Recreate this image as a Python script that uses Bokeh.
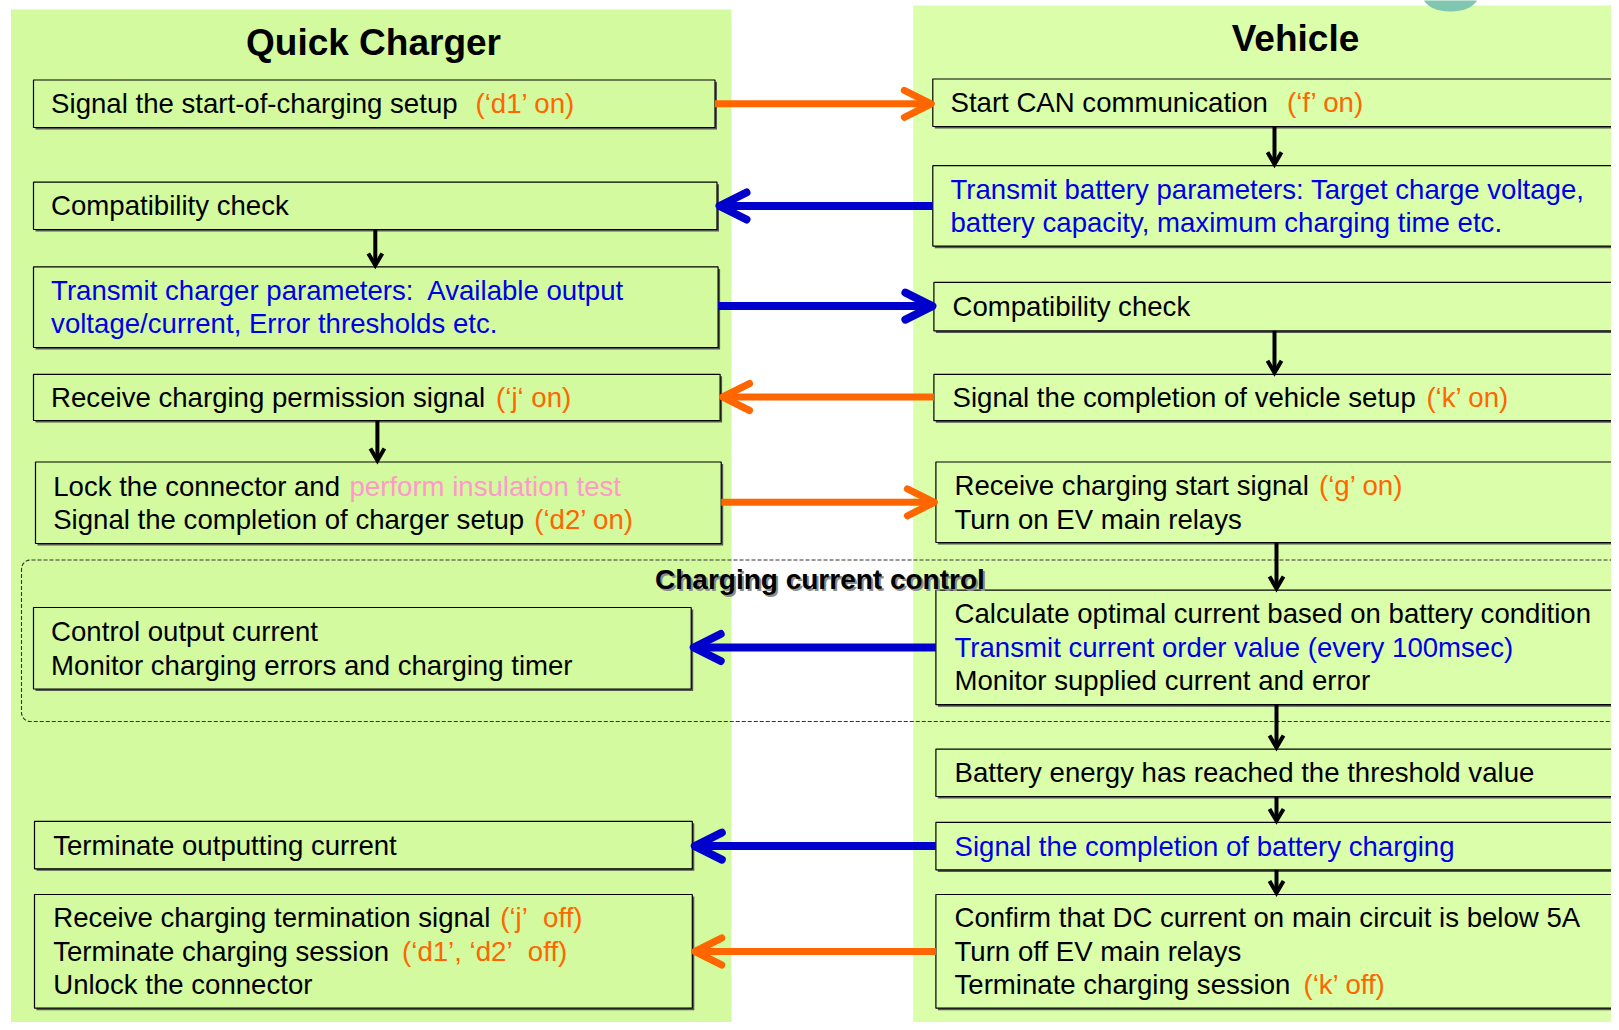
import numpy as np
from bokeh.plotting import figure
from bokeh.models import Range1d
from bokeh.embed import file_html
from bokeh.resources import INLINE
from bokeh.core.properties import value

NB = "\u00a0"

# ---------------- DATA: texts of the two flow columns ----------------
panel_titles = ["Quick Charger", "Vehicle"]
group_title = "Charging current control"

# every step: list of lines; every line: list of (text, colour key)
charger_steps = [
    [[("Signal the start-of-charging setup", "k"), ("(\u2018d1\u2019 on)", "o")]],
    [[("Compatibility check", "k")]],
    [[("Transmit charger parameters:" + NB + " Available output", "b")],
     [("voltage/current, Error thresholds etc.", "b")]],
    [[("Receive charging permission signal", "k"), ("(\u2018j\u2018 on)", "o")]],
    [[("Lock the connector and ", "k"), ("perform insulation test", "p")],
     [("Signal the completion of charger setup", "k"), ("(\u2018d2\u2019 on)", "o")]],
    [[("Control output current", "k")],
     [("Monitor charging errors and charging timer", "k")]],
    [[("Terminate outputting current", "k")]],
    [[("Receive charging termination signal", "k"), ("(\u2018j\u2019" + NB + " off)", "o")],
     [("Terminate charging session", "k"), ("(\u2018d1\u2019, \u2018d2\u2019" + NB + " off)", "o")],
     [("Unlock the connector", "k")]],
]

vehicle_steps = [
    [[("Start CAN communication", "k"), ("(\u2018f\u2019 on)", "o")]],
    [[("Transmit battery parameters: Target charge voltage,", "b")],
     [("battery capacity, maximum charging time etc.", "b")]],
    [[("Compatibility check", "k")]],
    [[("Signal the completion of vehicle setup", "k"), ("(\u2018k\u2019 on)", "o")]],
    [[("Receive charging start signal", "k"), ("(\u2018g\u2019 on)", "o")],
     [("Turn on EV main relays", "k")]],
    [[("Calculate optimal current based on battery condition", "k")],
     [("Transmit current order value (every 100msec)", "b")],
     [("Monitor supplied current and error", "k")]],
    [[("Battery energy has reached the threshold value", "k")]],
    [[("Signal the completion of battery charging", "b")]],
    [[("Confirm that DC current on main circuit is below 5A", "k")],
     [("Turn off EV main relays", "k")],
     [("Terminate charging session", "k"), ("(\u2018k\u2019 off)", "o")]],
]

# messages between columns: (sender column, sender step, receiver step, kind)
messages = [
    ("charger", 0, 0, "signal"),
    ("vehicle", 1, 1, "can"),
    ("charger", 2, 2, "can"),
    ("vehicle", 3, 3, "signal"),
    ("charger", 4, 4, "signal"),
    ("vehicle", 5, 5, "can"),
    ("vehicle", 7, 6, "can"),
    ("vehicle", 8, 7, "signal"),
]
# sequence arrows inside a column: (column, from step, to step)
flows = [
    ("charger", 1, 2), ("charger", 3, 4),
    ("vehicle", 0, 1), ("vehicle", 2, 3), ("vehicle", 4, 5),
    ("vehicle", 5, 6), ("vehicle", 6, 7), ("vehicle", 7, 8),
]

# ---------------- LAYOUT (page pixels) ----------------
charger_boxes = [(33, 714.5, 79.5, 127), (33, 716.5, 181.7, 229),
                 (33, 717.6, 266.4, 347), (33, 719.6, 373.8, 420),
                 (35, 720.7, 461.5, 543), (33, 690.7, 607, 688.5),
                 (34, 691.8, 820.8, 868.3), (34, 691.8, 894, 1007.7)]
vehicle_boxes = [(932.3, 1613.8, 78.5, 126), (932.3, 1615.9, 165.2, 245.7),
                 (933.4, 1613.8, 281.9, 330.4), (933.4, 1613.8, 373.8, 420.2),
                 (935.4, 1615.9, 461.5, 542), (935.4, 1617, 589.6, 704.2),
                 (935.4, 1615.9, 748.6, 796), (935.4, 1615.9, 821.9, 869.4),
                 (935.4, 1615.9, 894, 1007.7)]
charger_seg_x = [[[50.6, 475]], [[50.6]], [[50.6], [50.6]], [[50.6, 495.6]],
                 [[52.7, 349], [52.7, 533.8]], [[50.6], [50.6]], [[52.7]],
                 [[52.7, 499.7], [52.7, 401.6], [52.7]]]
vehicle_seg_x = [[[950, 1286.5]], [[950], [950]], [[952]], [[952, 1425.9]],
                 [[954, 1318.5], [954]], [[954], [954], [954]], [[954]], [[954]],
                 [[954], [954], [954, 1303]]]
message_y = [103.3, 205.5, 305.6, 396.5, 501.8, 647.0, 845.6, 951.0]
flow_x = [374.8, 376.9, 1274, 1274, 1276, 1276, 1276, 1276]

LEFT_BG, RIGHT_BG = "#d3fa9e", "#dafea9"
TXT = {"k": "#000000", "o": "#ff6600", "b": "#0000e6", "p": "#ff99cc"}
ARROW = {"signal": ("#ff6600", 7, 27, 27), "can": ("#0000cc", 8, 27, 27)}
FONT = value("Liberation Sans")
FS = 27.6
GAP = 33.5
W, H = 1611, 1022

p = figure(width=W, height=H, x_range=Range1d(0, W), y_range=Range1d(H, 0),
           output_backend="svg", toolbar_location=None, min_border=0,
           x_axis_location=None, y_axis_location=None)
p.grid.visible = False
p.outline_line_color = None
p.background_fill_color = "white"
p.border_fill_color = "white"

# column backgrounds
p.quad(left=[10.5], right=[731], top=[9], bottom=[1040], fill_color=LEFT_BG, line_color=None)
p.quad(left=[912.7], right=[1625], top=[5], bottom=[1040], fill_color=RIGHT_BG, line_color=None)
# logo fragment top right
p.ellipse(x=[1450], y=[-3], width=[54], height=[28], fill_color="#80c6b0", line_color=None)

# dashed group frame (open to the right)
r = 9.0
x0g, y0g, y1g, xr = 21.0, 559.5, 721.0, 1625.0
t = np.linspace(0, np.pi / 2, 12)
xs = [xr] + list(x0g + r - r * np.sin(t)) + list(x0g + r - r * np.cos(t)) + [xr]
ys = [y0g] + list(y0g + r - r * np.cos(t)) + list(y1g - r + r * np.sin(t)) + [y1g]
p.line(xs, ys, line_color="#333333", line_width=1.1, line_dash="4 2")

# boxes
def draw_boxes(boxes, fill):
    L = [b[0] for b in boxes]; R = [b[1] for b in boxes]
    T = [b[2] for b in boxes]; B = [b[3] for b in boxes]
    p.quad(left=[v + 2 for v in L], right=[v + 2 for v in R], top=[v + 2 for v in T],
           bottom=[v + 2 for v in B], fill_color="#555555", line_color=None)
    p.quad(left=L, right=R, top=T, bottom=B, fill_color=fill, line_color="black", line_width=1.2)

draw_boxes(charger_boxes, LEFT_BG)
draw_boxes(vehicle_boxes, RIGHT_BG)

# texts
def draw_texts(steps, boxes, segx):
    X, Y, S, C = [], [], [], []
    for step, box, sx in zip(steps, boxes, segx):
        cy = (box[2] + box[3]) / 2
        n = len(step)
        for i, line in enumerate(step):
            yc = cy + (i - (n - 1) / 2) * GAP
            for (txt, col), x in zip(line, sx[i]):
                X.append(x); Y.append(yc); S.append(txt); C.append(TXT[col])
    p.text(x=X, y=Y, text=S, text_color=C, text_font=FONT, text_font_size=f"{FS}px",
           text_baseline="middle", text_align="left")

draw_texts(charger_steps, charger_boxes, charger_seg_x)
draw_texts(vehicle_steps, vehicle_boxes, vehicle_seg_x)

# titles
p.text(x=[373, 1295], y=[41.5, 37.5], text=panel_titles, text_font=FONT, text_font_size="37px",
       text_font_style="bold", text_align="center", text_baseline="middle", text_color="black")
p.text(x=[656.5], y=[580.5], text=[group_title], text_font=FONT, text_font_size="28px",
       text_font_style="bold", text_baseline="middle", text_color="#8c8c8c")
p.text(x=[654.5], y=[578.5], text=[group_title], text_font=FONT, text_font_size="28px",
       text_font_style="bold", text_baseline="middle", text_color="black")

# message arrows
boxes_of = {"charger": charger_boxes, "vehicle": vehicle_boxes}
for (side, si, ri, kind), y in zip(messages, message_y):
    col, lw, hl, hw = ARROW[kind]
    if side == "charger":
        xs0 = charger_boxes[si][1]; xt = vehicle_boxes[ri][0] - 1.5; d = 1
    else:
        xs0 = vehicle_boxes[si][0]; xt = charger_boxes[ri][1] + 2.5; d = -1
    p.segment(x0=[xs0], y0=[y], x1=[xt - d * 4], y1=[y], line_color=col, line_width=lw)
    p.multi_line(xs=[[xt - d * hl, xt, xt - d * hl]], ys=[[y - hw / 2, y, y + hw / 2]],
                 line_color=col, line_width=lw, line_cap="round", line_join="round")

# sequence arrows
for (side, a, b), x in zip(flows, flow_x):
    bx = boxes_of[side]
    ys0 = bx[a][3]; yt = bx[b][2] - 1.5
    p.segment(x0=[x], y0=[ys0], x1=[x], y1=[yt - 3], line_color="black", line_width=4)
    p.multi_line(xs=[[x - 7, x, x + 7]], ys=[[yt - 12, yt, yt - 12]],
                 line_color="black", line_width=4, line_join="miter")

open("out.html", "w").write(file_html(p, INLINE))
